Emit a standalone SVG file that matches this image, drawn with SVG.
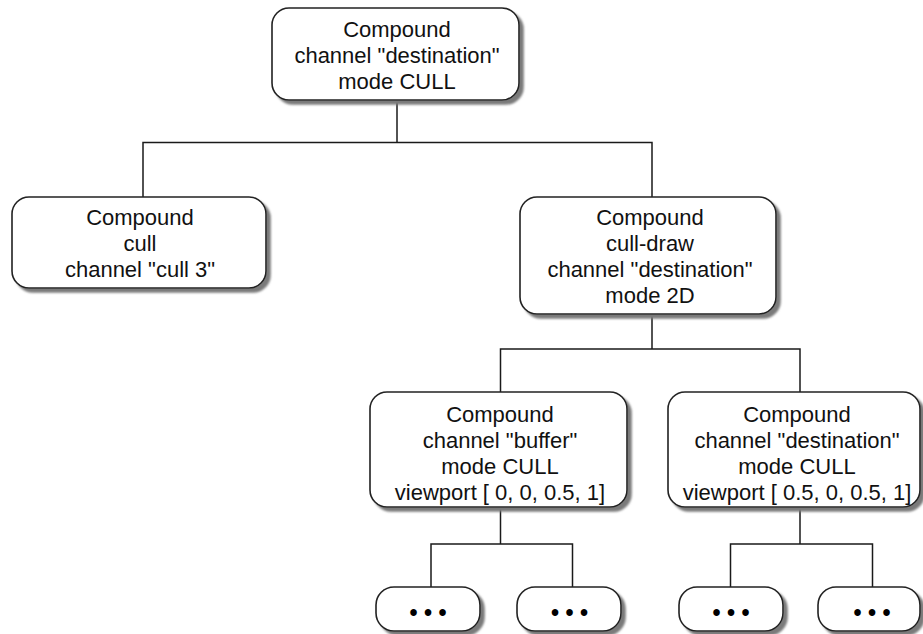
<svg xmlns="http://www.w3.org/2000/svg" width="923" height="634" viewBox="0 0 923 634">
  <defs>
    <filter id="shadow" x="-10%" y="-10%" width="130%" height="140%">
      <feDropShadow dx="4" dy="4" stdDeviation="1.2" flood-color="#7a7a7a" flood-opacity="1"/>
    </filter>
    <style>
      .box { fill: #ffffff; stroke: #222222; stroke-width: 1.6; filter: url(#shadow); }
      .lbl { font-family: "Liberation Sans", Arial, sans-serif; font-size: 22px; fill: #111111; text-anchor: middle; }
      .dots { font-family: "Liberation Sans", Arial, sans-serif; font-size: 23px; font-weight: bold; fill: #000000; text-anchor: middle; }
      .edge { fill: none; stroke: #1a1a1a; stroke-width: 1.5; }
    </style>
  </defs>
  <rect width="923" height="634" fill="#ffffff"/>

  <g id="connectors">
    <polyline class="edge" points="397,100 397,142.5"/>
    <polyline class="edge" points="143,197 143,142.5 652,142.5 652,197"/>
    <polyline class="edge" points="652,314 652,349"/>
    <polyline class="edge" points="500.5,392 500.5,349 800,349 800,392"/>
    <polyline class="edge" points="500.5,507 500.5,544"/>
    <polyline class="edge" points="431,587 431,544 572.5,544 572.5,587"/>
    <polyline class="edge" points="800,507 800,544"/>
    <polyline class="edge" points="730.5,587 730.5,544 872.5,544 872.5,587"/>
  </g>

  <g id="node-root">
    <rect class="box" x="272" y="8" width="247" height="92" rx="17" ry="17"/>
    <text class="lbl" x="397" y="37">Compound</text>
    <text class="lbl" x="397" y="63">channel "destination"</text>
    <text class="lbl" x="397" y="89">mode CULL</text>
  </g>

  <g id="node-cull">
    <rect class="box" x="12" y="197" width="254" height="91" rx="17" ry="17"/>
    <text class="lbl" x="140" y="225">Compound</text>
    <text class="lbl" x="140" y="251">cull</text>
    <text class="lbl" x="140" y="277">channel "cull 3"</text>
  </g>

  <g id="node-culldraw">
    <rect class="box" x="520" y="197" width="256" height="117" rx="17" ry="17"/>
    <text class="lbl" x="650" y="225">Compound</text>
    <text class="lbl" x="650" y="251">cull-draw</text>
    <text class="lbl" x="650" y="277">channel "destination"</text>
    <text class="lbl" x="650" y="303">mode 2D</text>
  </g>

  <g id="node-buffer">
    <rect class="box" x="370" y="392" width="257" height="115" rx="17" ry="17"/>
    <text class="lbl" x="500" y="422">Compound</text>
    <text class="lbl" x="500" y="448">channel "buffer"</text>
    <text class="lbl" x="500" y="474">mode CULL</text>
    <text class="lbl" x="500" y="500">viewport [ 0, 0, 0.5, 1]</text>
  </g>

  <g id="node-dest">
    <rect class="box" x="668" y="392" width="252" height="115" rx="17" ry="17"/>
    <text class="lbl" x="797" y="422">Compound</text>
    <text class="lbl" x="797" y="448">channel "destination"</text>
    <text class="lbl" x="797" y="474">mode CULL</text>
    <text class="lbl" x="797" y="500">viewport [ 0.5, 0, 0.5, 1]</text>
  </g>

  <g id="leaf-1">
    <rect class="box" x="376" y="587" width="104" height="44" rx="18" ry="18"/>
    <text class="dots" x="428" y="621">• • •</text>
  </g>
  <g id="leaf-2">
    <rect class="box" x="517" y="587" width="104" height="44" rx="18" ry="18"/>
    <text class="dots" x="569.5" y="621">• • •</text>
  </g>
  <g id="leaf-3">
    <rect class="box" x="679" y="587" width="104" height="44" rx="18" ry="18"/>
    <text class="dots" x="731" y="621">• • •</text>
  </g>
  <g id="leaf-4">
    <rect class="box" x="818" y="587" width="102" height="44" rx="18" ry="18"/>
    <text class="dots" x="872" y="621">• • •</text>
  </g>
</svg>
